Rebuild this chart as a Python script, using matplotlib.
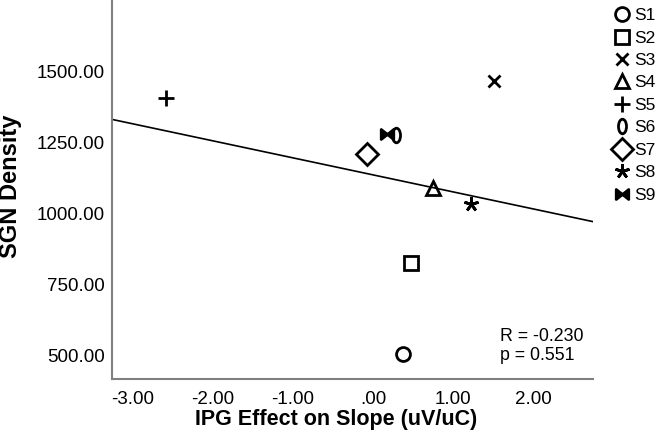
import numpy as np
import matplotlib
matplotlib.use("Agg")
import matplotlib.pyplot as plt
from matplotlib.path import Path
from matplotlib.lines import Line2D
from matplotlib.transforms import Affine2D

plt.rcParams['font.family'] = ['Liberation Sans', 'DejaVu Sans']

subjects = ["S1", "S2", "S3", "S4", "S5", "S6", "S7", "S8", "S9"]
ipg_effect = [0.38, 0.47, 1.51, 0.75, -2.59, 0.29, -0.08, 1.23, 0.17]
sgn_density = [508, 826, 1468, 1093, 1410, 1278, 1211, 1036, 1283]
x_ticks = [-3, -2, -1, 0, 1, 2]
x_tick_labels = ["-3.00", "-2.00", "-1.00", ".00", "1.00", "2.00"]
y_ticks = [500, 750, 1000, 1250, 1500]
y_tick_labels = ["500.00", "750.00", "1000.00", "1250.00", "1500.00"]
r_text = "R = -0.230\np = 0.551"

# custom markers
ellipse = Path.unit_circle().transformed(Affine2D().scale(0.55, 1.0))
bowtie = Path([(-1, 0.8), (0, 0), (-1, -0.8), (-1, 0.8), (1, 0.8), (0, 0), (1, -0.8), (1, 0.8)],
              [Path.MOVETO, Path.LINETO, Path.LINETO, Path.CLOSEPOLY,
               Path.MOVETO, Path.LINETO, Path.LINETO, Path.CLOSEPOLY])

styles = {
    "S1": dict(marker="o", ms=10, mfc="none"),
    "S2": dict(marker="s", ms=10.5, mfc="none"),
    "S3": dict(marker="x", ms=8.5, mfc="none"),
    "S4": dict(marker="^", ms=9.5, mfc="none"),
    "S5": dict(marker="+", ms=11, mfc="none"),
    "S6": dict(marker=ellipse, ms=10.5, mfc="none"),
    "S7": dict(marker="D", ms=11, mfc="none"),
    "S8": dict(marker=(5, 2, 0), ms=10.5, mfc="none"),
    "S9": dict(marker=bowtie, ms=9, mfc="black"),
}

fig = plt.figure(figsize=(6.61, 4.46), dpi=100)
ax = fig.add_axes([112/661, 1-379/446, (593-112)/661, 378/446])

for s, x, y in zip(subjects, ipg_effect, sgn_density):
    st = styles[s]
    ax.plot([x], [y], linestyle="none", marker=st["marker"], markersize=st["ms"],
            markerfacecolor=st["mfc"], markeredgecolor="black", markeredgewidth=2.0, zorder=3)

xlim = (-3.26, 2.75)
ylim = (419, 1750)
ax.set_xlim(*xlim)
ax.set_ylim(*ylim)

slope, intercept = np.polyfit(ipg_effect, sgn_density, 1)
xs = np.array(xlim)
ax.plot(xs, slope * xs + intercept, color="black", lw=1.2, zorder=2)

ax.set_xticks(x_ticks)
ax.set_xticklabels(x_tick_labels)
ax.set_yticks(y_ticks)
ax.set_yticklabels(y_tick_labels)
ax.tick_params(axis="both", length=0, labelsize=13.5, colors="black")
ax.tick_params(axis="x", pad=9)
ax.tick_params(axis="y", pad=5)

for side in ["top", "right"]:
    ax.spines[side].set_visible(False)
for side in ["left", "bottom"]:
    ax.spines[side].set_color("#808080")
    ax.spines[side].set_linewidth(1.5)

fig.text(336/661, 1-420/446, "IPG Effect on Slope (uV/uC)", fontsize=15.5, fontweight="bold",
         ha="center", va="center")
fig.text(11/661, 1-186/446, "SGN Density", rotation=90, fontsize=17, fontweight="bold",
         ha="center", va="center")
fig.text(500/661, 1-346/446, r_text, fontsize=12.8, ha="left", va="center", linespacing=1.15)

handles = []
for s in subjects:
    st = styles[s]
    handles.append(Line2D([], [], linestyle="none", marker=st["marker"], markersize=st["ms"],
                          markerfacecolor=st["mfc"], markeredgecolor="black", markeredgewidth=2.0))
leg = fig.legend(handles, subjects, loc="upper left", bbox_to_anchor=(614/661, 1-8/446),
                 frameon=False, fontsize=12.5, handlelength=0.9, handletextpad=0.25,
                 labelspacing=0.42, borderpad=0, borderaxespad=0)

fig.savefig("out.png", dpi=100)
